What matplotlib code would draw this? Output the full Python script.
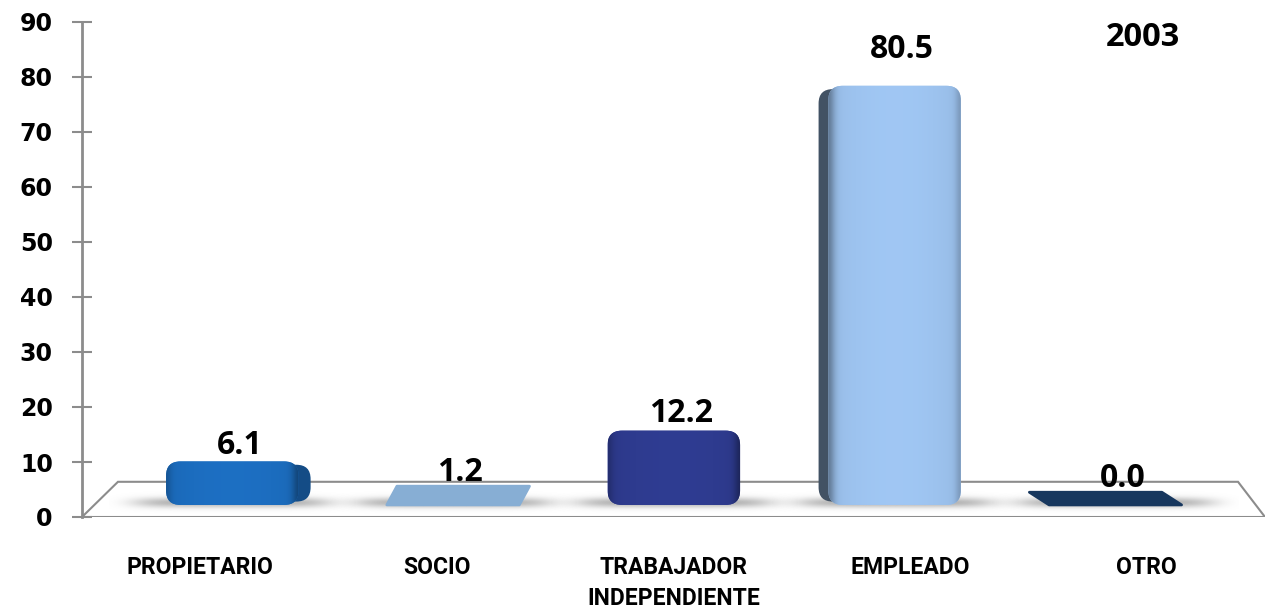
import numpy as np
import matplotlib.pyplot as plt
from matplotlib.patches import FancyBboxPatch, Polygon
from matplotlib.colors import to_rgb

categorias = ['PROPIETARIO', 'SOCIO', 'TRABAJADOR\nINDEPENDIENTE', 'EMPLEADO', 'OTRO']
porcentajes = [6.1, 1.2, 12.2, 80.5, 0.0]
colores = ['#1c6dbf', '#87aed4', '#2e3b8f', '#9dc3ef', '#17375e']
anio = '2003'
yticks = list(range(0, 100, 10))

# perspective settings for the pseudo-3D floor
MID = 2.02          # horizontal vanishing centre (category units)
ESCALA = 0.933      # bar row sits a bit behind the front edge
BASE = 2.2          # bottom of the bars on the floor
PROF = 2.3          # visible depth of each bar
K_ALTO = 0.918      # height compression from the perspective
ANCHO = 0.56
SESGO = 0.045

fig = plt.figure(figsize=(12.7, 6.15), dpi=100)
ax = fig.add_axes([82 / 1270, 98 / 615, 1183 / 1270, 495 / 615])
ax.set_xlim(-0.5, 4.5)
ax.set_ylim(0, 90)

gris = '#8c8c8c'
for s in ['top', 'right', 'bottom']:
    ax.spines[s].set_visible(False)
ax.spines['left'].set_color(gris)
ax.spines['left'].set_linewidth(2)

ax.set_yticks(yticks)
ax.set_yticklabels([str(t) for t in yticks], fontsize=17, fontweight='bold')
ax.tick_params(axis='y', direction='inout', length=14, width=1.5, color=gris, pad=14)
ax.set_xticks(range(len(categorias)))
ax.set_xticklabels(categorias, fontsize=16.5, fontweight='bold', linespacing=1.45,
                   family=['Roboto', 'DejaVu Sans'])
ax.tick_params(axis='x', length=0, pad=28)

# floor
piso = Polygon([(-0.5, 0), (4.5, 0), (4.386, 6.4), (-0.348, 6.4)], closed=True,
               facecolor='white', edgecolor=gris, lw=1.5, zorder=1)
ax.add_patch(piso)


def sombra(xc):
    xs = np.linspace(-1, 1, 200)
    ys = np.linspace(-1, 1, 40)
    X, Y = np.meshgrid(xs, ys)
    a = np.exp(-(X / 0.8) ** 6 - (Y / 0.45) ** 2) * 0.75
    img = np.zeros((40, 200, 4))
    img[..., :3] = 0.6
    img[..., 3] = a
    ax.imshow(img, extent=[xc - 0.52, xc + 0.52, BASE - 1.6, BASE + 2.4],
              aspect='auto', zorder=2, origin='lower', interpolation='bilinear')


def sombrear(rgb, lado):
    # horizontal shading: dark edge on the side facing the centre
    n = 200
    t = np.linspace(0, 1, n)
    f = 0.93 + 0.09 * np.sin(np.pi * t) ** 0.5
    cerca = t if lado == 'izq' else 1 - t
    f = f - 0.30 * np.exp(-(cerca / 0.05) ** 2)
    f = f - 0.15 * np.exp(-((1 - cerca) / 0.04) ** 2)
    img = np.ones((2, n, 3)) * np.array(rgb)
    return np.clip(img * f[None, :, None], 0, 1)


for i, (v, c) in enumerate(zip(porcentajes, colores)):
    xc = MID + (i - MID) * ESCALA
    rgb = np.array(to_rgb(c))
    s = SESGO * (MID - xc)
    h = v * K_ALTO
    x0, x1 = xc - ANCHO / 2, xc + ANCHO / 2
    alto = PROF + h
    sombra(xc)

    if h < 2:
        # very short bars: only the top face shows
        tapa = Polygon([(x0, BASE), (x1, BASE), (x1 + s, BASE + alto), (x0 + s, BASE + alto)],
                       closed=True, facecolor=rgb, edgecolor=rgb, lw=2,
                       joinstyle='round', zorder=3)
        ax.add_patch(tapa)
    else:
        ry = 2.6
        # side face peeking out behind the front
        if abs(s) > 0.01:
            desp = s if s < 0 else s * 0.6
            tono = 0.42 if s < 0 else 0.7
            lado = FancyBboxPatch((x0 + desp, BASE + 0.6), ANCHO, alto - 1.2,
                                  boxstyle=f'round,pad=0,rounding_size={ry / 43:.4f}',
                                  mutation_aspect=43, facecolor=rgb * tono,
                                  edgecolor='none', zorder=3)
            ax.add_patch(lado)
        frente = FancyBboxPatch((x0, BASE), ANCHO, alto,
                                boxstyle=f'round,pad=0,rounding_size={ry / 43:.4f}',
                                mutation_aspect=43, facecolor=rgb, edgecolor='none', zorder=4)
        ax.add_patch(frente)
        img = sombrear(rgb, 'izq' if s < 0 else 'der')
        im = ax.imshow(img, extent=[x0, x1, BASE, BASE + alto], aspect='auto', zorder=4.5,
                       origin='lower', interpolation='bilinear')
        im.set_clip_path(frente)

    ax.text(xc + 0.03, BASE + PROF + v * 0.97 + 2.5, f'{v:.1f}', ha='center', va='center',
            fontsize=23, fontweight='bold', family=['Open Sans', 'DejaVu Sans'], zorder=6)

ax.set_xlim(-0.5, 4.5)
ax.set_ylim(0, 90)

fig.text(1143 / 1270, 1 - 37 / 615, anio, ha='center', va='center', fontsize=23.5,
         fontweight='bold', family=['Open Sans', 'DejaVu Sans'])

fig.savefig('out.png', dpi=100)
